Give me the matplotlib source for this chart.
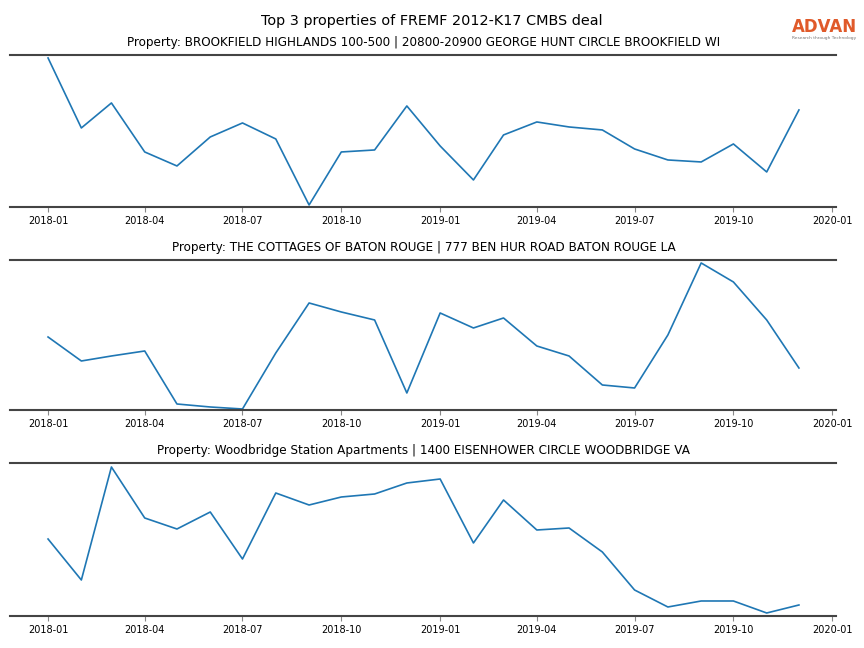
import numpy as np
import pandas as pd
import matplotlib
matplotlib.use('Agg')
import matplotlib.pyplot as plt
import matplotlib.dates as mdates

meses = pd.date_range('2018-01-01', '2019-12-01', freq='MS')

titulos = [
    'Property: BROOKFIELD HIGHLANDS 100-500 | 20800-20900 GEORGE HUNT CIRCLE BROOKFIELD WI',
    'Property: THE COTTAGES OF BATON ROUGE | 777 BEN HUR ROAD BATON ROUGE LA',
    'Property: Woodbridge Station Apartments | 1400 EISENHOWER CIRCLE WOODBRIDGE VA',
]

# valores (escala arbitraria, sin eje y)
brookfield = [152, 82, 107, 58, 44, 73, 87, 71, 5, 58, 60, 104,
              64, 30, 75, 88, 83, 80, 61, 50, 48, 66, 38, 100]
baton_rouge = [78, 54, 59, 64, 11, 8, 6, 62, 112, 103, 95, 22,
               102, 87, 97, 69, 59, 30, 27, 80, 152, 133, 95, 47]
woodbridge = [81, 40, 153, 102, 91, 108, 61, 127, 115, 123, 126, 137,
              141, 77, 120, 90, 92, 68, 30, 13, 19, 19, 7, 15]

series = [brookfield, baton_rouge, woodbridge]
limites_y = [(3, 155), (5, 155), (4, 157)]

fig = plt.figure(figsize=(8.64, 6.48), dpi=100)
fig.suptitle('Top 3 properties of FREMF 2012-K17 CMBS deal', fontsize=10.4, y=0.978)

posiciones = [
    [0.01215, 0.6806, 0.956, 0.2346],
    [0.01215, 0.3673, 0.956, 0.2315],
    [0.01215, 0.0494, 0.956, 0.2361],
]

for pos, titulo, valores, lim in zip(posiciones, titulos, series, limites_y):
    ax = fig.add_axes(pos)
    ax.plot(meses, valores, color='#1f77b4', linewidth=1.2)
    ax.set_title(titulo, fontsize=8.65, pad=6.5)
    ax.set_ylim(*lim)
    ax.set_yticks([])
    for lado in ['left', 'right']:
        ax.spines[lado].set_visible(False)
    for lado in ['top', 'bottom']:
        ax.spines[lado].set_color('#444444')
        ax.spines[lado].set_linewidth(1.5)
    ax.xaxis.set_major_locator(mdates.MonthLocator(bymonth=[1, 4, 7, 10]))
    ax.xaxis.set_major_formatter(mdates.DateFormatter('%Y-%m'))
    ax.tick_params(axis='x', labelsize=7, color='#888888', length=3.5, width=0.8, pad=3)

# logo
fig.text(0.954, 0.959, 'ADVAN', color='#e05a2a', fontsize=12, fontweight='bold',
         ha='center', va='center')
fig.text(0.954, 0.941, 'Research through Technology', color='#777777', fontsize=3.2,
         ha='center', va='center')

fig.savefig('out.png', dpi=100)
